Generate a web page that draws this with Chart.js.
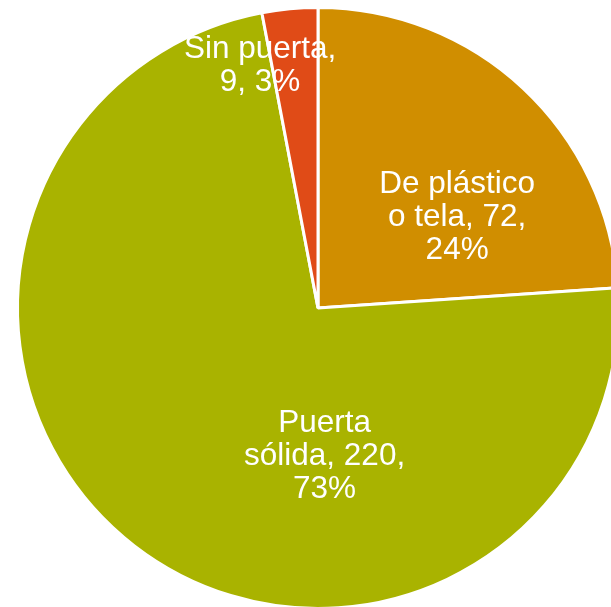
<!DOCTYPE html>
<html lang="es">
<head>
  <meta charset="UTF-8" />
  <title>Tipo de puerta</title>
  <style>
    html, body {
      margin: 0;
      padding: 0;
      background: #ffffff;
      overflow: hidden;
    }
    .chart-box {
      position: absolute;
      left: 0;
      top: 0;
      width: 636px;
      height: 616px;
    }
  </style>
</head>
<body>
  <div class="chart-box">
    <canvas id="pieChart"></canvas>
  </div>

  <script src="https://cdn.jsdelivr.net/npm/chart.js@4.4.1/dist/chart.umd.min.js"></script>
  <script>
    // datos
    const categories = ["De plástico o tela", "Puerta sólida", "Sin puerta"];
    const counts = [72, 220, 9];
    const percentLabels = ["24%", "73%", "3%"];
    const labelLines = [
      ["De plástico", "o tela, 72,", "24%"],
      ["Puerta", "sólida, 220,", "73%"],
      ["Sin puerta,", "9, 3%"]
    ];

    const colors = ["#D08E00", "#A9B300", "#E04B17"];

    // dónde va cada etiqueta: t = fracción del arco, r = fracción del radio
    const labelPlacement = [
      { t: 0.653, r: 0.557 },
      { t: 0.347, r: 0.487 },
      { t: -0.24, r: 0.835 }
    ];

    const sliceLabels = {
      id: "sliceLabels",
      afterDatasetsDraw(chart) {
        const ctx = chart.ctx;
        const meta = chart.getDatasetMeta(0);
        ctx.save();
        ctx.fillStyle = "#ffffff";
        ctx.font = "31.5px 'Liberation Sans', Arial, sans-serif";
        ctx.textAlign = "center";
        ctx.textBaseline = "middle";
        const lineH = 33;
        meta.data.forEach((arc, i) => {
          const p = arc.getProps(["x", "y", "startAngle", "endAngle", "outerRadius"], true);
          const pl = labelPlacement[i];
          const a = p.startAngle + pl.t * (p.endAngle - p.startAngle);
          const cx = p.x + Math.cos(a) * pl.r * p.outerRadius;
          const cy = p.y + Math.sin(a) * pl.r * p.outerRadius;
          const lines = labelLines[i];
          const top = cy - (lines.length - 1) * lineH / 2;
          lines.forEach((txt, k) => {
            ctx.fillText(txt, cx, top + k * lineH + 2);
          });
        });
        ctx.restore();
      }
    };

    new Chart(document.getElementById("pieChart"), {
      type: "pie",
      data: {
        labels: categories,
        datasets: [{
          data: counts,
          backgroundColor: colors,
          borderColor: "#ffffff",
          borderWidth: 3
        }]
      },
      options: {
        responsive: true,
        maintainAspectRatio: false,
        animation: false,
        layout: { padding: 6 },
        plugins: {
          legend: { display: false },
          tooltip: { enabled: false }
        }
      },
      plugins: [sliceLabels]
    });
  </script>
</body>
</html>
